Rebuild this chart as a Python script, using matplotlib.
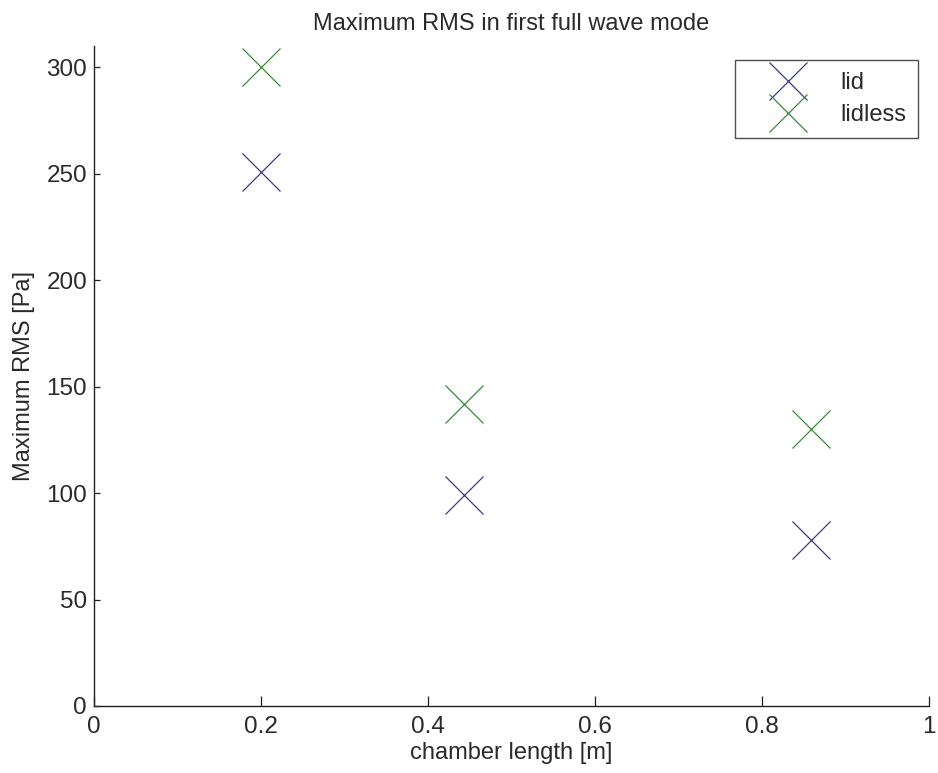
import matplotlib
matplotlib.use('Agg')
import matplotlib.pyplot as plt

plt.rcParams['font.family'] = ['Liberation Sans', 'DejaVu Sans']

# chamber length [m]
lengths = [0.2, 0.443, 0.859]
# maximum RMS [Pa]
rms_lid = [251, 99, 78]
rms_lidless = [300, 142, 130]

fig = plt.figure(figsize=(9.38, 7.73), dpi=100)
ax = fig.add_axes([0.1002, 0.0867, 0.8898, 0.8538])

ax.plot(lengths, rms_lid, linestyle='none', marker='x', markersize=27,
        markeredgewidth=0.9, color='#3a3a8c', label='lid')
ax.plot(lengths, rms_lidless, linestyle='none', marker='x', markersize=27,
        markeredgewidth=0.9, color='#3a8a3a', label='lidless')

ax.set_xlim(0, 1)
ax.set_ylim(0, 310)
ax.set_xticks([0, 0.2, 0.4, 0.6, 0.8, 1])
ax.set_xticklabels(['0', '0.2', '0.4', '0.6', '0.8', '1'])
ax.set_yticks([0, 50, 100, 150, 200, 250, 300])

for side in ['top', 'right']:
    ax.spines[side].set_visible(False)
for side in ['left', 'bottom']:
    ax.spines[side].set_linewidth(1.0)
    ax.spines[side].set_color('#222222')

txt = '#2a2a2a'
ax.tick_params(axis='x', direction='in', length=7.2, width=0.9, labelsize=17.5, pad=7,
               colors='#222222', labelcolor=txt)
ax.tick_params(axis='y', direction='in', length=4.3, width=0.9, labelsize=17.5, pad=5,
               colors='#222222', labelcolor=txt)

ax.set_title('Maximum RMS in first full wave mode', fontsize=17, pad=11.5, color=txt)
ax.set_xlabel('chamber length [m]', fontsize=17, labelpad=3, color=txt)
ax.set_ylabel('Maximum RMS [Pa]', fontsize=17, labelpad=8, color=txt)

leg = ax.legend(loc='upper right', bbox_to_anchor=(918 / 938, (773 - 60) / 773),
                bbox_transform=fig.transFigure, fontsize=17, frameon=True,
                fancybox=False, handlelength=3.5, handletextpad=0.45,
                labelspacing=0.45, borderpad=0.5, borderaxespad=0)
leg.get_frame().set_edgecolor('#222222')
leg.get_frame().set_linewidth(1.0)
for t in leg.get_texts():
    t.set_color(txt)

fig.savefig('out.png', dpi=100)
